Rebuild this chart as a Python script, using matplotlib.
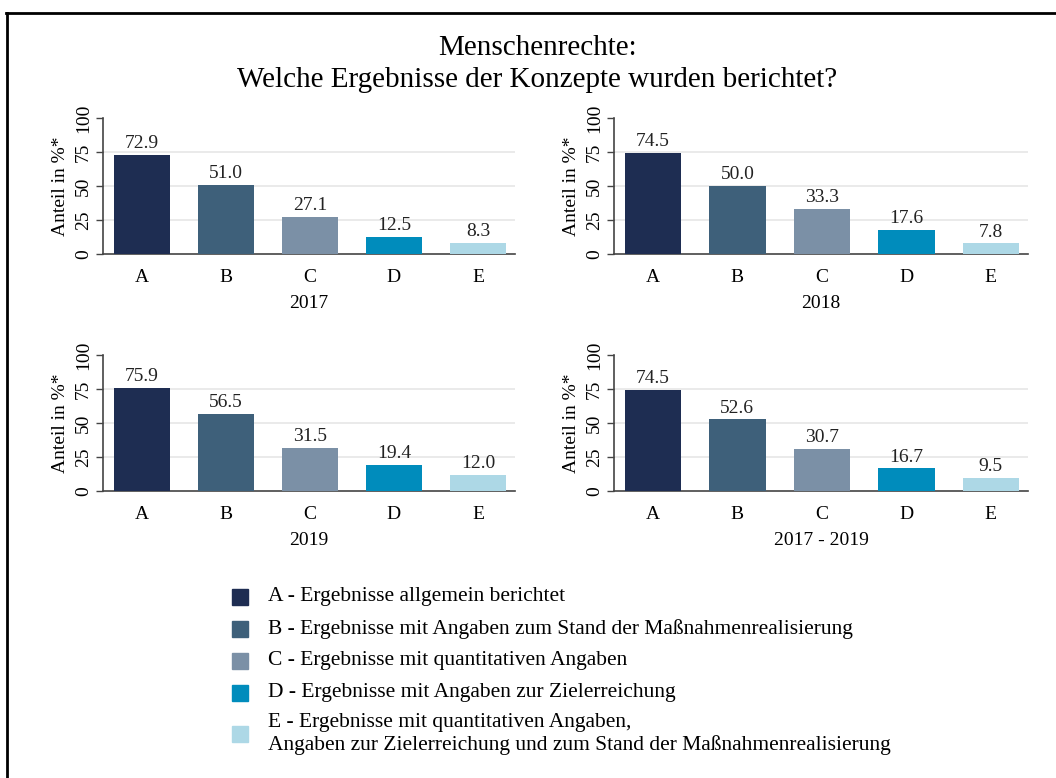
import matplotlib
matplotlib.use("Agg")
import matplotlib.pyplot as plt
from matplotlib.patches import Rectangle
from matplotlib.lines import Line2D

plt.rcParams['font.family'] = ['Liberation Serif', 'DejaVu Serif']

categories = ['A', 'B', 'C', 'D', 'E']
colors = ['#1e2d52', '#3e607a', '#7b90a6', '#008cbc', '#add8e6']

panels = ['2017', '2018', '2019', '2017 - 2019']
values_2017 = [72.9, 51.0, 27.1, 12.5, 8.3]
values_2018 = [74.5, 50.0, 33.3, 17.6, 7.8]
values_2019 = [75.9, 56.5, 31.5, 19.4, 12.0]
values_all = [74.5, 52.6, 30.7, 16.7, 9.5]
panel_values = [values_2017, values_2018, values_2019, values_all]

legend_labels = [
    'A - Ergebnisse allgemein berichtet',
    'B - Ergebnisse mit Angaben zum Stand der Maßnahmenrealisierung',
    'C - Ergebnisse mit quantitativen Angaben',
    'D - Ergebnisse mit Angaben zur Zielerreichung',
    'E - Ergebnisse mit quantitativen Angaben,\nAngaben zur Zielerreichung und zum Stand der Maßnahmenrealisierung',
]

W, H = 1056, 778
fig = plt.figure(figsize=(W / 100, H / 100), dpi=100)

# frame lines (top and left)
fig.add_artist(Line2D([6 / W, 1], [1 - 12.5 / H] * 2, color='black', lw=2, transform=fig.transFigure))
fig.add_artist(Line2D([6.5 / W] * 2, [0, 1 - 12.5 / H], color='black', lw=2, transform=fig.transFigure))

fig.text(0.509, 1 - 64 / H, 'Menschenrechte:\nWelche Ergebnisse der Konzepte wurden berichtet?',
         ha='center', va='center', fontsize=21, linespacing=1.3)

# axes positions in pixels: (left, right, y0 baseline, y100)
boxes = [(103, 515, 254, 118), (614, 1028, 254, 118),
         (103, 515, 491, 355), (614, 1028, 491, 355)]

for (l, r, yb, yt), name, vals in zip(boxes, panels, panel_values):
    ax = fig.add_axes([l / W, 1 - yb / H, (r - l) / W, (yb - yt) / H])
    x = range(len(categories))
    bars = ax.bar(x, vals, width=0.67, color=colors, zorder=3)
    ax.bar_label(bars, fmt='%.1f', padding=2, fontsize=14, color='#222222')
    ax.set_xlim(-0.46, 4.44)
    ax.set_ylim(0, 100)
    ax.set_xticks(list(x))
    ax.set_xticklabels(categories, fontsize=14)
    ax.tick_params(axis='x', length=0, pad=11)
    ax.set_yticks([0, 25, 50, 75, 100])
    ax.set_yticklabels(['0', '25', '50', '75', '100'], rotation=90, va='center', fontsize=14)
    ax.tick_params(axis='y', length=5, width=1, color='#444444', pad=3)
    for g in [25, 50, 75]:
        ax.axhline(g, color='#e6e6e6', lw=1.2, zorder=1)
    ax.set_ylabel('Anteil in %*', fontsize=14, labelpad=4)
    ax.set_xlabel(name, fontsize=14, labelpad=6)
    for s in ['top', 'right']:
        ax.spines[s].set_visible(False)
    for s in ['left', 'bottom']:
        ax.spines[s].set_color('#444444')
        ax.spines[s].set_linewidth(1.2)

# legend
rows_y = [597, 629, 661, 693, 734]
for lab, col, yy in zip(legend_labels, colors, rows_y):
    fig.add_artist(Rectangle((232 / W, 1 - (yy + 8) / H), 16 / W, 16 / H,
                             color=col, transform=fig.transFigure))
    fig.text(268 / W, 1 - yy / H, lab, ha='left', va='center', fontsize=15.5, linespacing=1.15)

fig.savefig('out.png', dpi=100)
